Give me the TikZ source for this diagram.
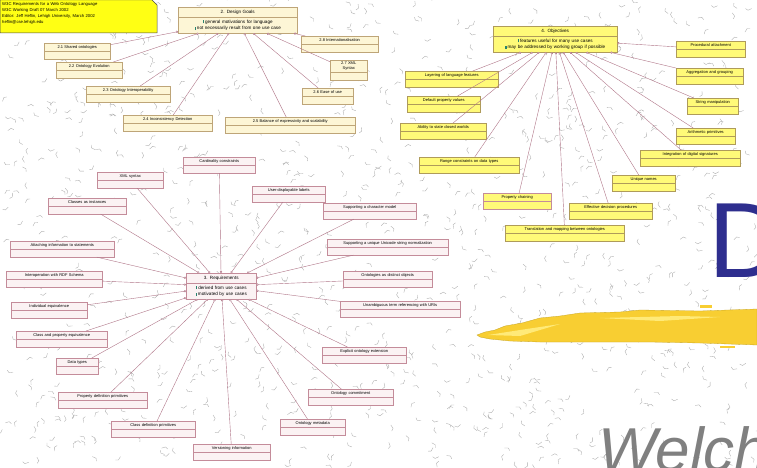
\documentclass[tikz,border=0pt]{standalone}
\usepackage{fontspec}
\setmainfont{Liberation Sans}
\usetikzlibrary{shapes.multipart,arrows.meta}

\definecolor{reqfill}{RGB}{251,242,243}
\definecolor{reqdraw}{RGB}{196,140,154}
\definecolor{goalfill}{RGB}{253,246,214}
\definecolor{goaldraw}{RGB}{190,165,120}
\definecolor{objfill}{RGB}{255,250,120}
\definecolor{objdraw}{RGB}{175,155,90}
\definecolor{assoccol}{RGB}{176,118,136}
\definecolor{notefill}{RGB}{255,255,20}
\definecolor{titleblue}{RGB}{46,46,142}
\definecolor{brushgold}{RGB}{248,206,50}
\definecolor{brushlight}{RGB}{255,234,120}
\definecolor{icongreen}{RGB}{40,130,110}

\newcommand{\umltext}[1]{#1\strut\nodepart{two}\strut}
\newcommand{\umlicon}{{\color{icongreen}\rule[-0.4pt]{1.6pt}{3.2pt}}\,}

\tikzset{
  umlbox/.style={rectangle split, rectangle split parts=2, draw, anchor=north west,
    inner xsep=1pt, inner ysep=1.3pt, align=center, line width=0.45pt,
    font=\fontsize{4}{4.8}\selectfont},
  centerbox/.style={umlbox, font=\fontsize{4.6}{6.6}\selectfont},
  goalbox/.style={umlbox, draw=goaldraw, fill=goalfill},
  reqbox/.style={umlbox, draw=reqdraw, fill=reqfill},
  objbox/.style={umlbox, draw=objdraw, fill=objfill},
  assoc/.style={draw=assoccol, line width=0.4pt, {Circle[open,length=2.2pt,fill=white]}-},
  texture/.style={draw=black!33, line width=0.35pt},
}

\begin{document}
\begin{tikzpicture}[x=1pt,y=-1pt]
    \useasboundingbox (0,0) rectangle (757,468);
    \clip (0,0) rectangle (757,468);
    \fill[white] (0,0) rectangle (757,468);

    % Background texture %
    \pgfmathsetseed{4711}
    \foreach \i in {1,...,1100}{
        \pgfmathsetmacro\px{rnd*757}
        \pgfmathsetmacro\py{rnd*468}
        \pgfmathsetmacro\pa{rnd*360}
        \draw[texture] (\px,\py) -- ++(\pa:4) -- ++(\pa+60:3);
    }

    % Note %
    \fill[notefill, draw=black!70, line width=0.5pt] (0,0) -- (152,0) -- (157,5) -- (157,33) -- (0,33) -- cycle;
    \node[anchor=north west, inner sep=2pt, text width=150pt, align=left,
          font=\fontsize{4.2}{6}\selectfont] (note) at (0,0)
          {W3C Requirements for a Web Ontology Language\\
           W3C Working Draft 07 March 2002\\
           Editor: Jeff Heflin, Lehigh University, March 2002\\
           heflin@cse.lehigh.edu};

    % Design goals %
    \node[goalbox, centerbox, text width=117pt] (dg) at (178,7)
        {2. Design Goals\strut\nodepart{two}\umlicon general motivations for language\strut\hfill\\
         \umlicon not necessarily result from one use case\strut\hfill};
    \node[goalbox, text width=64pt] (d1) at (44,43) {\umltext{2.1 Shared ontologies}};
    \node[goalbox, text width=64pt] (d2) at (56,62) {\umltext{2.2 Ontology Evolution}};
    \node[goalbox, text width=82pt] (d3) at (86,86) {\umltext{2.3 Ontology Interoperability}};
    \node[goalbox, text width=87pt] (d4) at (123,115) {\umltext{2.4 Inconsistency Detection}};
    \node[goalbox, text width=128pt] (d5) at (225,117) {\umltext{2.5 Balance of expressivity and scalability}};
    \node[goalbox, text width=49pt] (d6) at (302,88) {\umltext{2.6 Ease of use}};
    \node[goalbox, text width=35pt] (d7) at (330,60) {\umltext{2.7 XML\\Syntax}};
    \node[goalbox, text width=75pt] (d8) at (301,36) {\umltext{2.8 Internationalisation}};
    \foreach \n in {1,...,8}
        \draw[assoc] (dg) -- (d\n);

    % Objectives %
    \node[objbox, centerbox, text width=122pt] (ob) at (493,26)
        {4. Objectives\strut\nodepart{two}\umlicon features useful for many use cases\strut\hfill\\
         \umlicon may be addressed by working group if possible\strut\hfill};
    \node[objbox, text width=91pt] (o1) at (405,71) {\umltext{Layering of language features}};
    \node[objbox, text width=71pt] (o2) at (407,96) {\umltext{Default property values}};
    \node[objbox, text width=84pt] (o3) at (400,123) {\umltext{Ability to state closed worlds}};
    \node[objbox, text width=98pt] (o4) at (419,157) {\umltext{Range constraints on data types}};
    \node[objbox, draw=reqdraw, text width=66pt] (o5) at (483,193) {\umltext{Property chaining}};
    \node[objbox, text width=117pt] (o6) at (505,225) {\umltext{Translation and mapping between ontologies}};
    \node[objbox, text width=81pt] (o7) at (569,203) {\umltext{Effective decision procedures}};
    \node[objbox, text width=61pt] (o8) at (612,175) {\umltext{Unique names}};
    \node[objbox, text width=98pt] (o9) at (640,150) {\umltext{Integration of digital signatures}};
    \node[objbox, text width=57pt] (o10) at (676,128) {\umltext{Arithmetic primitives}};
    \node[objbox, text width=49pt] (o11) at (687,98) {\umltext{String manipulation}};
    \node[objbox, text width=65pt] (o12) at (676,68) {\umltext{Aggregation and grouping}};
    \node[objbox, text width=67pt] (o13) at (676,41) {\umltext{Procedural attachment}};
    \foreach \n in {1,...,13}
        \draw[assoc] (ob) -- (o\n);

    % Requirements %
    \node[reqbox, centerbox, text width=68pt] (rq) at (186,273)
        {3. Requirements\strut\nodepart{two}\umlicon derived from use cases\strut\hfill\\
         \umlicon motivated by use cases\strut\hfill};
    \node[reqbox, text width=70pt] (r1) at (183,157) {\umltext{Cardinality constraints}};
    \node[reqbox, text width=64pt] (r2) at (97,172) {\umltext{XML syntax}};
    \node[reqbox, text width=76pt] (r3) at (48,198) {\umltext{Classes as instances}};
    \node[reqbox, text width=102pt] (r4) at (10,241) {\umltext{Attaching information to statements}};
    \node[reqbox, text width=94pt] (r5) at (6,271) {\umltext{Interoperation with RDF Schema}};
    \node[reqbox, text width=74pt] (r6) at (11,302) {\umltext{Individual equivalence}};
    \node[reqbox, text width=89pt] (r7) at (16,331) {\umltext{Class and property equivalence}};
    \node[reqbox, text width=40pt] (r8) at (56,358) {\umltext{Data types}};
    \node[reqbox, text width=87pt] (r9) at (58,392) {\umltext{Property definition primitives}};
    \node[reqbox, text width=82pt] (r10) at (111,421) {\umltext{Class definition primitives}};
    \node[reqbox, text width=75pt] (r11) at (193,444) {\umltext{Versioning information}};
    \node[reqbox, text width=63pt] (r12) at (280,419) {\umltext{Ontology metadata}};
    \node[reqbox, text width=83pt] (r13) at (308,389) {\umltext{Ontology commitment}};
    \node[reqbox, text width=82pt] (r14) at (322,347) {\umltext{Explicit ontology extension}};
    \node[reqbox, text width=118pt] (r15) at (340,301) {\umltext{Unambiguous term referencing with URIs}};
    \node[reqbox, text width=87pt] (r16) at (343,271) {\umltext{Ontologies as distinct objects}};
    \node[reqbox, text width=119pt] (r17) at (327,239) {\umltext{Supporting a unique Unicode string normalization}};
    \node[reqbox, text width=91pt] (r18) at (323,203) {\umltext{Supporting a character model}};
    \node[reqbox, text width=71pt] (r19) at (252,186) {\umltext{User-displayable labels}};
    \foreach \n in {1,...,19}
        \draw[assoc] (rq) -- (r\n);

    % Slide title %
    \fill[brushgold, draw=brushgold!80!black, line width=0.3pt] (477,335) -- (485,332) -- (495,330) -- (505,326)
        -- (522,323) -- (540,318) -- (560,316) -- (580,313) -- (620,312) -- (640,310) -- (700,311) -- (757,309)
        -- (757,345) -- (700,343) -- (650,342) -- (600,342) -- (540,342) -- (510,341) -- (490,339) -- (480,337) -- cycle;
    \fill[brushlight] (488,335) -- (520,330) -- (560,324) -- (520,336) -- cycle;
    \fill[brushlight] (600,318) -- (680,316) -- (720,317) -- (660,321) -- cycle;
    \fill[brushgold] (700,305) rectangle (712,308);
    \fill[brushgold] (720,346) rectangle (735,348);
    \node[anchor=base west, inner sep=0pt, text=titleblue, font=\fontsize{107}{110}\selectfont] (title) at (708,277) {D};
    \node[anchor=base west, inner sep=0pt, text=black!50, font=\fontsize{62}{64}\selectfont\itshape] (subtitle) at (598,471) {Welch};
\end{tikzpicture}
\end{document}
